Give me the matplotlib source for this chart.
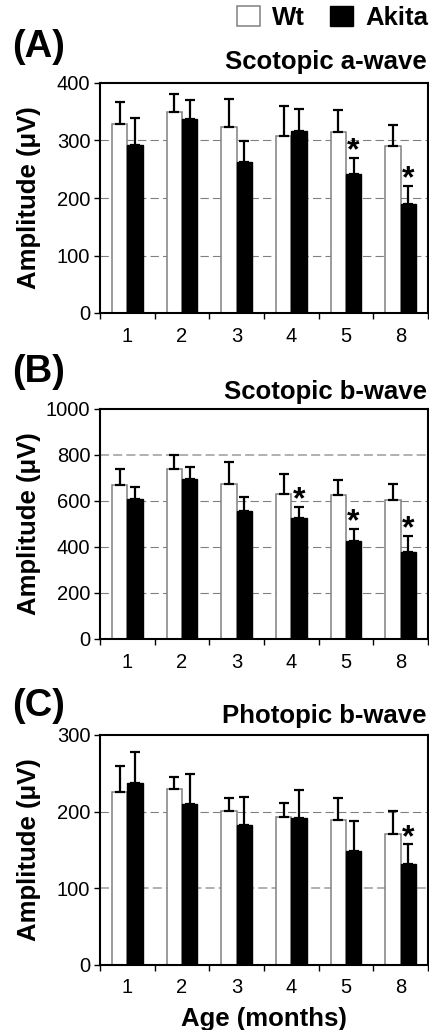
import matplotlib
matplotlib.use('Agg')
import matplotlib.pyplot as plt
from matplotlib.patches import Patch
import numpy as np

plt.rcParams['font.family'] = ['Liberation Sans', 'DejaVu Sans']
plt.rcParams['lines.scale_dashes'] = False

# ---------------- data ----------------
months = ['1', '2', '3', '4', '5', '8']
groups = ['Wt', 'Akita']

a_wt = [328, 350, 324, 307, 314, 291]
a_wt_err = [39, 31, 48, 53, 39, 36]
a_ak = [292, 338, 262, 317, 242, 190]
a_ak_err = [47, 32, 37, 38, 27, 31]
a_sig = [4, 5]

b_wt = [668, 738, 674, 630, 624, 606]
b_wt_err = [69, 63, 97, 88, 69, 69]
b_ak = [607, 694, 555, 524, 424, 378]
b_ak_err = [53, 55, 62, 50, 54, 69]
b_sig = [3, 4, 5]

c_wt = [225, 229, 201, 193, 189, 171]
c_wt_err = [34, 16, 17, 18, 29, 30]
c_ak = [237, 210, 182, 191, 148, 131]
c_ak_err = [41, 39, 37, 37, 40, 26]
c_sig = [5]

panel_labels = ['(A)', '(B)', '(C)']
titles = ['Scotopic a-wave', 'Scotopic b-wave', 'Photopic b-wave']
ylims = [400, 1000, 300]
yticks = [[0, 100, 200, 300, 400], [0, 200, 400, 600, 800, 1000], [0, 100, 200, 300]]
light_grid = [None, 800, 100]
ylabel = 'Amplitude (\u03bcV)'
xlabel = 'Age (months)'

# ---------------- layout ----------------
W, H = 429, 1030
fig = plt.figure(figsize=(W / 100, H / 100), dpi=100)


def fx(x):
    return x / W


def fy(y):
    return 1 - y / H


axes_px = [(83, 313), (409, 639), (735, 964.5)]
label_base = [57, 382, 716]
title_base = [68.5, 398.5, 723]

data = [
    (a_wt, a_wt_err, a_ak, a_ak_err, a_sig),
    (b_wt, b_wt_err, b_ak, b_ak_err, b_sig),
    (c_wt, c_wt_err, c_ak, c_ak_err, c_sig),
]

BIG = 18.5
TICK = 14.5
bw = 0.28
x = np.arange(len(months))

for i, (top, bot) in enumerate(axes_px):
    ax = fig.add_axes([fx(100), fy(bot), 328 / W, (bot - top) / H])
    wt, wte, ak, ake, sig = data[i]
    ax.bar(x - bw / 2, wt, bw, color='white', edgecolor='#808080', linewidth=1.1, zorder=2)
    ax.bar(x + bw / 2, ak, bw, color='black', edgecolor='black', linewidth=1.0, zorder=2)
    ax.errorbar(x - bw / 2, wt, yerr=[np.zeros(len(wt)), wte], fmt='none', ecolor='black',
                elinewidth=1.6, capsize=3.4, capthick=1.6, zorder=3)
    ax.errorbar(x + bw / 2, ak, yerr=[np.zeros(len(ak)), ake], fmt='none', ecolor='black',
                elinewidth=1.6, capsize=3.4, capthick=1.6, zorder=3)
    for j in sig:
        ax.annotate('*', xy=(x[j] + bw / 2, ak[j] + ake[j]), xytext=(0, -1),
                    textcoords='offset points', ha='center', va='baseline',
                    fontsize=23, fontweight='bold', zorder=4)

    ax.set_xlim(-0.5, len(months) - 0.5)
    ax.set_ylim(0, ylims[i])
    ax.set_yticks(yticks[i])
    ax.set_yticklabels([str(t) for t in yticks[i]], fontsize=TICK)
    for t in yticks[i][1:-1]:
        if t == light_grid[i]:
            ax.axhline(t, color='#b0b0b0', linewidth=1.4, linestyle=(0, (6.5, 3)), zorder=1)
        else:
            ax.axhline(t, color='#808080', linewidth=0.8, linestyle=(0, (6, 3)), zorder=1)

    ax.set_xticks(np.arange(-0.5, len(months), 1.0))
    ax.set_xticklabels([])
    ax.set_xticks(x, minor=True)
    ax.set_xticklabels(months, minor=True, fontsize=TICK)
    ax.tick_params(axis='x', which='major', direction='out', length=4, width=1.0)
    ax.tick_params(axis='x', which='minor', length=0, pad=10)
    ax.tick_params(axis='y', direction='out', length=4, width=1.0, pad=3)
    for s in ax.spines.values():
        s.set_linewidth(1.5)
        s.set_color('black')

    ax.set_ylabel(ylabel, fontsize=BIG, fontweight='bold')
    ax.yaxis.label.set_va('center')
    ax.yaxis.set_label_coords((29 - 100) / 328, 0.5)

    fig.text(fx(12), fy(label_base[i]), panel_labels[i], fontsize=27.5, fontweight='bold',
             ha='left', va='baseline')
    fig.text(fx(427), fy(title_base[i]), titles[i], fontsize=BIG, fontweight='bold',
             ha='right', va='baseline')

    if i == 2:
        fig.text(fx(264), fy(1026), xlabel, fontsize=BIG, fontweight='bold',
                 ha='center', va='baseline')

handles = [Patch(facecolor='white', edgecolor='#808080', linewidth=1.1),
           Patch(facecolor='black', edgecolor='black')]
fig.legend(handles, groups, ncol=2, frameon=False, loc='upper right',
           bbox_to_anchor=(fx(428), fy(6)),
           prop=dict(family='Liberation Sans', weight='bold', size=BIG),
           handlelength=0.9, handleheight=0.85, handletextpad=0.45,
           columnspacing=1.0, borderpad=0, borderaxespad=0)

fig.savefig('out.png', dpi=100)
